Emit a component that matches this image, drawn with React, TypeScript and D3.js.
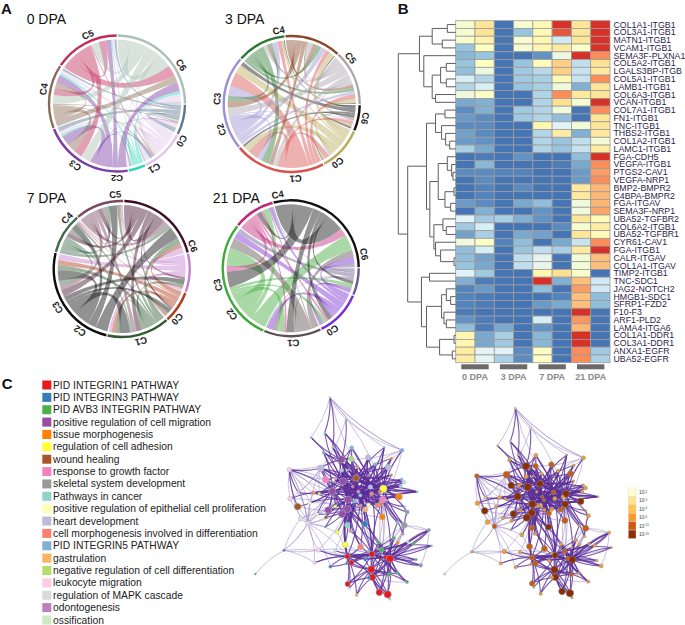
import React, { useEffect, useRef } from 'react';
import * as d3 from 'd3';

// ---- A: chord diagrams (rows = sending cluster, cols = receiving cluster, clockwise order)
const chord0Dpa = [
  [4, 1, 0, 4, 2, 2, 1],
  [4, 4, 1, 3, 3, 2, 7],
  [0, 1, 1, 2, 2, 1, 3],
  [1, 2, 1, 9, 7, 5, 8],
  [1, 1, 0, 7, 5, 0, 6],
  [0, 1, 0, 8, 6, 6, 10],
  [1, 2, 1, 9, 8, 7, 12],
];
const chord3Dpa = [
  [2, 1, 2, 4, 1, 1, 1],
  [2, 2, 6, 8, 2, 5, 4],
  [3, 4, 9, 13, 4, 4, 4],
  [1, 1, 5, 9, 5, 5, 3],
  [0, 0, 7, 5, 3, 4, 3],
  [1, 0, 4, 6, 2, 4, 3],
  [1, 1, 4, 7, 3, 5, 4],
];
const chord7Dpa = [
  [2, 1, 3, 6, 2, 2, 6],
  [1, 2, 4, 5, 1, 1, 4],
  [3, 2, 4, 5, 2, 3, 6],
  [5, 4, 10, 10, 6, 8, 12],
  [0, 0, 2, 4, 3, 4, 4],
  [0, 0, 4, 5, 2, 3, 5],
  [2, 2, 5, 7, 4, 4, 9],
];
const chord21Dpa = [
  [1, 1, 1, 4, 1, 3],
  [3, 2, 5, 6, 3, 6],
  [1, 1, 4, 9, 1, 6],
  [3, 3, 6, 16, 5, 14],
  [0, 2, 2, 5, 2, 7],
  [3, 4, 7, 14, 4, 16],
];
const chordColors0 = ['#5f7590', '#e0c5ea', '#2ed6bc', '#7a3ea3', '#8c6b55', '#c02c5a', '#a9c0b6'];
const chordColors3 = ['#111111', '#b8ab5c', '#d8534f', '#9c90d2', '#2e7a35', '#8a4a2a', '#a8a4ac'];
const chordColors7 = ['#c77fd0', '#b03a1a', '#2f5a30', '#0c0c0c', '#3f6b4a', '#7a4a5e', '#3d1028'];
const chordColors21 = ['#6b5a8f', '#7a2fd0', '#5f4f50', '#3faa3a', '#c0277a', '#111111'];

const chordLabels0: [string, number][] = [['C0', 120], ['C1', 150], ['C2', 180], ['C3', 214], ['C4', 281], ['C5', 337], ['C6', 59]];
const chordLabels3: [string, number][] = [['C6', 101], ['C0', 142], ['C1', 177], ['C2', 250], ['C3', 274], ['C4', 350], ['C5', 52]];
const chordLabels7: [string, number][] = [['C0', 132], ['C1', 165], ['C2', 214], ['C3', 239], ['C4', 313], ['C5', 355], ['C6', 72]];
const chordLabels21: [string, number][] = [['C0', 146], ['C1', 178], ['C2', 232], ['C3', 257], ['C4', 350], ['C6', 79]];

const chordPanels = [
  { title: '0 DPA', matrix: chord0Dpa, colors: chordColors0, labels: chordLabels0, start: 91, cx: 117, cy: 103.5, tx: 26.7, ty: 23.5 },
  { title: '3 DPA', matrix: chord3Dpa, colors: chordColors3, labels: chordLabels3, start: 91, cx: 291.7, cy: 104, tx: 225, ty: 23.5 },
  { title: '7 DPA', matrix: chord7Dpa, colors: chordColors7, labels: chordLabels7, start: 77, cx: 121.7, cy: 269, tx: 26.7, ty: 203 },
  { title: '21 DPA', matrix: chord21Dpa, colors: chordColors21, labels: chordLabels21, start: 90, cx: 290.7, cy: 268.3, tx: 212.7, ty: 203 },
];

// ---- B: heatmap
const heatRows = [
  'COL1A1-ITGB1', 'COL3A1-ITGB1', 'MATN1-ITGB1', 'VCAM1-ITGB1', 'SEMA3F-PLXNA1', 'COL5A2-ITGB1', 'LGALS3BP-ITGB',
  'COL5A1-ITGB1', 'LAMB1-ITGB1', 'COL6A3-ITGB1', 'VCAN-ITGB1', 'COL7A1-ITGB1', 'FN1-ITGB1', 'TNC-ITGB1', 'THBS2-ITGB1',
  'COL1A2-ITGB1', 'LAMC1-ITGB1', 'FGA-CDH5', 'VEGFA-ITGB1', 'PTGS2-CAV1', 'VEGFA-NRP1', 'BMP2-BMPR2', 'C4BPA-BMPR2',
  'FGA-ITGAV', 'SEMA3F-NRP1', 'UBA52-TGFBR2', 'COL6A2-ITGB1', 'UBA52-TGFBR1', 'CYR61-CAV1', 'FGA-ITGB1', 'CALR-ITGAV',
  'COL1A1-ITGAV', 'TIMP2-ITGB1', 'TNC-SDC1', 'JAG2-NOTCH2', 'HMGB1-SDC1', 'SFRP1-FZD2', 'F10-F3', 'ARF1-PLD2',
  'LAMA4-ITGA6', 'COL1A1-DDR1', 'COL3A1-DDR1', 'ANXA1-EGFR', 'UBA52-EGFR',
];
const heatValues = [
  [2.7, 3.8, 0, 2.7, 3.2, 6, 3.8, 6],
  [2.7, 3.9, 0, 1.1, 3.2, 5.6, 3.8, 6],
  [2.8, 3.4, 0, 2.7, 3.3, 1.8, 3.8, 6],
  [1.1, 3, 0, 2.7, 3.3, 3.7, 2.8, 6],
  [0.9, 1.1, 0, 0, 0.4, 2.4, 6, 5],
  [1.1, 3, 0, 1.1, 3.1, 4.2, 1.6, 3.9],
  [1, 2.4, 0, 1.2, 1.5, 4.2, 1.7, 3.7],
  [1.9, 1.4, 0, 1.2, 1.3, 3.2, 1.7, 5],
  [1.4, 1.9, 0, 1.1, 1.3, 2.5, 0.8, 3.8],
  [2.5, 2.9, 0, 0, 1.4, 5, 3.7, 3.8],
  [0.7, 0.8, 0, 0, 1.4, 4, 2.7, 6],
  [0.3, 0.8, 0, 1.2, 1.4, 2.5, 0, 5],
  [0.5, 0.3, 0, 1.2, 1.4, 1, 0, 3.8],
  [0.3, 0.3, 0, 0, 3.3, 2, 2.6, 3.8],
  [0.6, 0.3, 0, 0, 1.4, 3.6, 0.8, 3.7],
  [0.5, 0.4, 0, 0, 1.4, 1.1, 1.6, 2.6],
  [1.3, 0.7, 0, 0, 1.4, 1.1, 1.7, 3.6],
  [0, 0.1, 0, 0.4, 0, 0, 1, 6],
  [0, 0.9, 0, 0, 0, 0.1, 0.7, 5],
  [0.3, 0.3, 0.2, 0.2, 0, 0, 0.5, 4.8],
  [0, 0.3, 0, 0, 0, 0, 0.5, 5],
  [0, 0.2, 0, 0.3, 0, 0, 3.7, 4.5],
  [0, 0.2, 0, 0, 0, 0, 3.7, 4.5],
  [0.5, 0.3, 0, 0.7, 1, 0, 2.5, 4.5],
  [0, 0.8, 0, 0, 0.4, 0, 2.5, 4.7],
  [2, 1.2, 1.3, 0.8, 0.4, 0, 3.8, 3.1],
  [1.2, 1.9, 0, 0, 0, 0.3, 2.7, 3.6],
  [0.6, 1.3, 0, 0.7, 0.6, 0, 3.8, 3.1],
  [2.5, 2.9, 0.2, 1, 0, 0.7, 1.7, 5],
  [1, 1.9, 0, 1.1, 1.6, 1.3, 3.7, 6],
  [1, 0.6, 0, 1.6, 2.2, 0, 2.6, 4.4],
  [1.1, 0.7, 0, 1.6, 2.2, 0, 2.6, 4.4],
  [2, 1.2, 0, 0, 3.3, 4, 2.8, 0],
  [0.8, 0.1, 0, 0, 6, 0.8, 4.4, 1.8],
  [0.2, 0.5, 0, 0, 1, 0, 4.8, 1.8],
  [0.2, 0.1, 0, 0, 0, 0.2, 4.4, 1],
  [0.2, 0.1, 0, 0, 0.5, 0.7, 4.4, 1],
  [0.1, 0, 0, 0, 0, 0, 6, 0],
  [0.4, 0.1, 0, 0, 1.9, 0, 4.9, 0],
  [1, 0.1, 0.7, 0, 0.4, 0, 4.5, 0],
  [3.3, 0.7, 1.3, 0, 0.9, 0, 6, 0],
  [3.3, 0.7, 1.2, 0, 0.9, 0, 6, 0],
  [3.6, 2.1, 2, 0.3, 2.9, 0, 5, 1.2],
  [3.6, 2.1, 1.3, 0.3, 2.9, 0, 5, 1.3],
];
const heatGroups = ['0 DPA', '3 DPA', '7 DPA', '21 DPA'];
const heatPalette = ['#4575b4', '#91bfdb', '#e0f3f8', '#ffffbf', '#fee090', '#fc8d59', '#d73027'];

// merge height first, then the two children; a bare number is a row of the heatmap
type Merge = number | [number, Merge, Merge];
const rowTree: Merge = [171,
  [108,
    [70, [25, 0, 1], [40, 2, 3]],
    [95, 4, [70, [45, [28, 5, 6], [28, 7, 8]], [60, 9, 10]]]],
  [143,
    [87,
      [60, [32, 11, 12], [42, 13, [30, 14, [18, 15, 16]]]],
      [77,
        [52, [25, 17, [12, 18, [8, 19, 20]]], [32, [5, 21, 22], [15, 23, 24]]],
        [65, [38, 25, [28, 26, 27]], [60, 28, [45, 29, [5, 30, 31]]]]]],
    [102,
      [78, 32, 33],
      [87,
        [42, [28, 34, [15, 35, 36]], [35, 37, [28, 38, 39]]],
        [48, [5, 40, 41], [10, 42, 43]]]]]];

// ---- C: enrichment networks
const termNames = [
  'PID INTEGRIN1 PATHWAY', 'PID INTEGRIN3 PATHWAY', 'PID AVB3 INTEGRIN PATHWAY', 'positive regulation of cell migration',
  'tissue morphogenesis', 'regulation of cell adhesion', 'wound healing', 'response to growth factor',
  'skeletal system development', 'Pathways in cancer', 'positive regulation of epithelial cell proliferation',
  'heart development', 'cell morphogenesis involved in differentiation', 'PID INTEGRIN5 PATHWAY', 'gastrulation',
  'negative regulation of cell differentiation', 'leukocyte migration', 'regulation of MAPK cascade', 'odontogenesis', 'ossification',
];
const termColors = [
  '#e41a1c', '#377eb8', '#4daf4a', '#984ea3', '#ff7f00', '#ffff33', '#a65628', '#f781bf', '#999999', '#8dd3c7',
  '#ffffb3', '#bebada', '#fb8072', '#80b1d3', '#fdb462', '#b3de69', '#fccde5', '#d9d9d9', '#bc80bd', '#ccebc5',
];
const pLabels = ['-2', '-3', '-4', '-6', '-10', '-20'];
const pColors = ['#ffffcc', '#fee391', '#fec44f', '#fe9929', '#cc5a0e', '#8c2d04'];

// x, y, size, term, p bin, links. The first 26 nodes can be linked to as a..z (capital = strong edge)
type NetNode = [number, number, number, number, number, string];
const netNodes: NetNode[] = [
  [318, 279, 10, 6, 5, 'BCDEFGHIJRV'],
  [325, 320, 5, 7, 4, 'CDEFGHIJRKNV'],
  [361, 306, 7, 11, 4, 'DEFGHIJKV'],
  [294, 344, 11, 3, 5, 'EFGHIJKOR'],
  [279, 289, 11, 3, 5, 'FGHIJRV'],
  [247, 319, 11, 3, 5, 'GHIJRUvt'],
  [400, 311, 11, 5, 5, 'HIJRYS'],
  [398, 344, 10, 7, 5, 'IJRKLSn'],
  [331, 331, 5, 9, 4, 'RJKVO'],
  [274, 223, 11, 3, 5, 'VRyu'],
  [366, 507, 9, 0, 5, 'LMNOPQs'],
  [420, 521, 11, 0, 5, 'MNPQOZ'],
  [405, 517, 6, 0, 4, 'NOPQZ'],
  [395, 494, 7, 2, 4, 'OPQh'],
  [292, 514, 8, 0, 4, 'PQt'],
  [364, 553, 11, 0, 5, 'Q'],
  [367, 577, 10, 0, 5, 'lm'],
  [292, 372, 11, 3, 5, 'KOLNV'],
  [463, 421, 9, 8, 4, 'lzgkm'],
  [174, 415, 7, 16, 4, 'rwfvud'],
  [118, 254, 7, 16, 4, 'Vfdet'],
  [212, 250, 10, 11, 4, 'F'],
  [102, 496, 4, 1, 3, 'to'],
  [240, 38, 3, 9, 1, 'ygc'],
  [456, 196, 6, 13, 3, 'xgcah'],
  [537, 435, 5, 8, 3, 'Ls'],
  [288, 103, 3, 9, 1, 'Jxyv'],
  [224, 144, 3, 9, 1, 'XJEA'],
  [183, 157, 3, 9, 1, 'JxE'],
  [248, 187, 3, 15, 2, 'XJAE'],
  [221, 203, 5, 13, 3, 'JAEF'],
  [305, 188, 6, 13, 3, 'AJGCE'],
  [304, 222, 8, 15, 4, 'AJCB'],
  [283, 233, 3, 5, 3, 'AEBD'],
  [354, 217, 8, 11, 4, 'ACBGD'],
  [403, 187, 3, 13, 3, 'GCxAB'],
  [425, 220, 4, 4, 3, 'GCyAB'],
  [415, 247, 9, 11, 4, 'GCABI'],
  [375, 238, 5, 13, 3, 'CGABI'],
  [323, 246, 5, 12, 3, 'AJBCD'],
  [295, 255, 3, 13, 3, 'AEBD'],
  [275, 256, 6, 11, 3, 'EABD'],
  [424, 270, 4, 4, 3, 'GCAB'],
  [455, 283, 4, 13, 3, 'GHCB'],
  [462, 292, 6, 17, 3, 'GCBA'],
  [452, 303, 5, 9, 3, 'GCBI'],
  [502, 320, 3, 9, 3, 'GCBIAH'],
  [447, 335, 10, 4, 5, 'GHBCI'],
  [390, 320, 5, 4, 3, 'CGBIA'],
  [365, 326, 6, 12, 3, 'CHBIE'],
  [390, 358, 6, 4, 4, 'HCBI'],
  [382, 362, 7, 12, 4, 'HBCI'],
  [356, 360, 6, 10, 3, 'BHICR'],
  [346, 373, 8, 14, 4, 'RBIDC'],
  [332, 362, 5, 12, 3, 'BIDCE'],
  [320, 347, 6, 11, 3, 'DIBCE'],
  [312, 350, 5, 13, 3, 'DRBIA'],
  [308, 305, 4, 12, 3, 'ABCDE'],
  [258, 280, 4, 7, 3, 'EABDF'],
  [227, 284, 10, 7, 5, 'EFABvu'],
  [250, 285, 5, 10, 3, 'EFBA'],
  [208, 326, 4, 5, 3, 'FvuBE'],
  [190, 323, 6, 12, 3, 'FuBDt'],
  [145, 323, 4, 16, 2, 'UFtv'],
  [120, 341, 7, 16, 3, 'uFtrv'],
  [143, 365, 10, 6, 5, 'FUtr'],
  [179, 353, 5, 10, 3, 'FtuDr'],
  [201, 388, 5, 10, 3, 'RtFd'],
  [234, 375, 10, 3, 5, 'FRDBe'],
  [256, 364, 5, 5, 3, 'FDBE'],
  [228, 397, 5, 6, 3, 'RtDF'],
  [276, 387, 11, 3, 5, 'RDBFA'],
  [152, 401, 7, 16, 3, 'tufrw'],
  [205, 495, 7, 16, 3, 'toOwrk'],
  [194, 533, 5, 16, 3, 'towkO'],
  [226, 426, 3, 1, 2, 'RtD'],
  [16, 567, 3, 1, 1, 'w'],
  [301, 438, 5, 7, 3, 'RKDB'],
  [292, 420, 8, 9, 4, 'RDBI'],
  [261, 442, 6, 5, 3, 'Rtod'],
  [345, 417, 9, 1, 5, 'RBDIk'],
  [285, 479, 9, 5, 4, 'ROkDR'],
  [332, 486, 9, 12, 4, 'RKDBO'],
  [255, 497, 5, 17, 3, 'oKr'],
  [397, 396, 9, 4, 4, 'HrbnI'],
  [442, 413, 4, 13, 3, 'HsgLb'],
  [464, 365, 3, 9, 3, 'Hsg'],
  [472, 381, 6, 8, 3, 'ShHG'],
  [459, 447, 4, 8, 3, 'SlHk'],
  [385, 472, 5, 2, 3, 'KLMh'],
  [432, 459, 5, 2, 3, 'LMKs'],
  [418, 483, 4, 2, 3, 'LKMN'],
  [443, 473, 5, 4, 3, 'LsMk'],
  [491, 476, 5, 2, 3, 'LZMk'],
  [473, 470, 4, 19, 3, 'LZMN'],
  [545, 482, 3, 9, 3, 'LMNk'],
  [512, 541, 6, 8, 3, 'LMNz'],
  [498, 524, 4, 2, 3, 'LMK'],
  [471, 591, 5, 2, 3, 'LPMq'],
  [440, 565, 4, 2, 3, 'LPKM'],
  [417, 569, 6, 2, 4, 'LPQKM'],
  [388, 622, 10, 0, 5, 'QLPM'],
  [413, 628, 11, 0, 5, 'QLPM'],
  [420, 643, 3, 17, 3, 'QP'],
  [320, 630, 5, 14, 3, 'POQ'],
  [293, 597, 8, 0, 4, 'OPKQ'],
  [298, 610, 3, 17, 3, 'OP'],
  [304, 533, 8, 0, 4, 'OKPN'],
  [290, 535, 4, 1, 3, 'OKP'],
  [241, 545, 5, 1, 3, 'OtK'],
  [346, 524, 5, 1, 3, 'KOLP'],
  [356, 578, 5, 1, 3, 'PKQL'],
  [355, 500, 4, 13, 3, 'KLO'],
];

const FONT = '"Liberation Sans", Arial, sans-serif';
const DEG = Math.PI / 180;

// clockwise around the circle; each sector holds its outgoing block, then the incoming links
function chordLayout(matrix: number[][], startDeg: number, gapDeg: number) {
  const n = matrix.length;
  const total = 2 * d3.sum(matrix, row => d3.sum(row));
  const toAngle = d3.scaleLinear().domain([0, total]).range([0, (360 - n * gapDeg) * DEG]);
  const links: any[] = [];
  const sectors: any[] = [];
  matrix.forEach(() => links.push(matrix.map(() => ({}))));
  let a = startDeg * DEG;
  for (let i = 0; i < n; i++) {
    const start = a;
    for (let j = n - 1; j >= 0; j--) {
      const w = toAngle(matrix[i][j]);
      links[i][j].source = { startAngle: a, endAngle: a + w };
      a += w;
    }
    for (let j = n - 1; j >= 0; j--) {
      const w = toAngle(matrix[j][i]);
      links[j][i].target = { startAngle: a, endAngle: a + w };
      a += w;
    }
    sectors.push({ startAngle: start, endAngle: a });
    a += gapDeg * DEG;
  }
  const list = links.flatMap((row, i) => row.map((l: any, j: number) => ({ ...l, from: i, value: matrix[i][j] })));
  return { sectors, links: list.filter(l => l.value > 0) };
}

const App: React.FC = () => {
  const svgRef = useRef<SVGSVGElement>(null);

  useEffect(() => {
    if (!svgRef.current) return;
    const svg = d3.select(svgRef.current);
    svg.selectAll('*').remove();

    // Panel letters
    [['A', 1, 14], ['B', 397.7, 13.5], ['C', 1.7, 389]].forEach(([t, x, y]) => {
      svg.append('text').attr('x', x).attr('y', y)
        .style('font', `bold 15px ${FONT}`).attr('fill', '#111').text(t as string);
    });

    // --- A
    const ring = d3.arc<any>().innerRadius(66.8).outerRadius(69.2);
    const ribbon = d3.ribbon<any, any>().radius(64);
    chordPanels.forEach(p => {
      svg.append('text').attr('x', p.tx).attr('y', p.ty)
        .style('font', `14px ${FONT}`).attr('fill', '#111').text(p.title);
      const g = svg.append('g').attr('transform', `translate(${p.cx},${p.cy})`);
      const { sectors, links } = chordLayout(p.matrix, p.start, 1);
      g.selectAll('path.link').data(links).enter().append('path')
        .attr('class', 'link')
        .attr('d', d => ribbon(d) as unknown as string)
        .attr('fill', d => p.colors[d.from])
        .attr('fill-opacity', 0.45);
      g.selectAll('path.ring').data(sectors).enter().append('path')
        .attr('class', 'ring')
        .attr('d', d => ring(d))
        .attr('fill', (_, i) => p.colors[i]);
      p.labels.forEach(([label, angle]) => {
        g.append('text')
          .attr('transform', `rotate(${angle}) translate(0,-75)`)
          .attr('text-anchor', 'middle')
          .attr('dominant-baseline', 'central')
          .style('font', `bold 9.5px ${FONT}`)
          .attr('fill', '#222')
          .text(label);
      });
    });

    // --- B heatmap
    const heatLeft = 455.7;
    const heatRight = 610;
    const xCell = d3.scaleBand<number>().domain(d3.range(8)).range([heatLeft, heatRight]);
    const yCell = d3.scaleBand<number>().domain(d3.range(heatRows.length)).range([20.7, 362.7]);
    const heatColor = d3.scaleLinear<string>().domain(d3.range(7)).range(heatPalette);
    const heat = svg.append('g');
    heatValues.forEach((row, r) => {
      heat.selectAll(null).data(row).enter().append('rect')
        .attr('x', (_, c) => xCell(c) as number)
        .attr('y', yCell(r) as number)
        .attr('width', xCell.bandwidth())
        .attr('height', yCell.bandwidth())
        .attr('fill', d => heatColor(d))
        .attr('stroke', '#9c9c9c')
        .attr('stroke-width', 0.8);
    });
    heat.selectAll('text.row').data(heatRows).enter().append('text')
      .attr('class', 'row')
      .attr('x', 613.5)
      .attr('y', (_, i) => (yCell(i) as number) + yCell.bandwidth() / 2)
      .attr('dominant-baseline', 'central')
      .style('font', `8.8px ${FONT}`)
      .attr('fill', '#2c2448')
      .text(d => d);

    const xGroup = d3.scaleBand<string>().domain(heatGroups).range([heatLeft, heatRight]).paddingInner(0.29).paddingOuter(0.145);
    heatGroups.forEach(name => {
      heat.append('rect')
        .attr('x', xGroup(name) as number).attr('y', 364.3)
        .attr('width', xGroup.bandwidth()).attr('height', 5)
        .attr('fill', '#6e6868');
      heat.append('text')
        .attr('x', (xGroup(name) as number) + xGroup.bandwidth() / 2).attr('y', 379.5)
        .attr('text-anchor', 'middle')
        .style('font', `bold 9px ${FONT}`)
        .attr('fill', '#8a8a8a')
        .text(name);
    });

    // row dendrogram
    const treeRoot = d3.hierarchy<Merge>(rowTree, d => (Array.isArray(d) ? [d[1], d[2]] : null));
    const xMerge = d3.scaleLinear().domain([0, 171]).range([heatLeft, 398.3]);
    const height = (d: any) => (Array.isArray(d.data) ? d.data[0] : 0);
    const rowY = (d: any): number => d.children
      ? d3.mean(d.children, rowY) as number
      : (yCell(d.data) as number) + yCell.bandwidth() / 2;
    const dendro = d3.path();
    treeRoot.descendants().filter(d => d.children).forEach(d => {
      const x = xMerge(height(d));
      d.children!.forEach(c => {
        dendro.moveTo(x, rowY(d));
        dendro.lineTo(x, rowY(c));
        dendro.lineTo(xMerge(height(c)), rowY(c));
      });
    });
    svg.append('path').attr('d', dendro.toString())
      .attr('fill', 'none').attr('stroke', '#5e5e5e').attr('stroke-width', 1);

    // --- C legend
    const yTerm = d3.scalePoint<string>().domain(termNames).range([385, 620]);
    const legend = svg.append('g');
    legend.selectAll('rect').data(termNames).enter().append('rect')
      .attr('x', 42.3)
      .attr('y', d => (yTerm(d) as number) - 4.5)
      .attr('width', 9).attr('height', 9)
      .attr('fill', (_, i) => termColors[i]);
    legend.selectAll('text').data(termNames).enter().append('text')
      .attr('x', 53)
      .attr('y', d => yTerm(d) as number)
      .attr('dominant-baseline', 'central')
      .style('font', `10.3px ${FONT}`)
      .attr('fill', '#222')
      .text(d => d);

    // --- C networks
    const hubOf = (ch: string) => netNodes[ch.toLowerCase().charCodeAt(0) - 97];
    const edges = netNodes.flatMap(n => [...n[5]].map(ch => ({ a: n, b: hubOf(ch), strong: ch === ch.toUpperCase() })));
    const size = d3.scaleLinear().domain([0, 11]).range([0, 3.7]);

    const drawNetwork = (xs: d3.ScaleLinear<number, number>, ys: d3.ScaleLinear<number, number>, fill: (n: NetNode) => string, ringColor: string) => {
      const g = svg.append('g');
      const curved = (e: any, i: number) => {
        const [x0, y0, x1, y1] = [xs(e.a[0]), ys(e.a[1]), xs(e.b[0]), ys(e.b[1])];
        const bend = i % 2 ? 0.1 : -0.1;
        const path = d3.path();
        path.moveTo(x0, y0);
        path.quadraticCurveTo((x0 + x1) / 2 - (y1 - y0) * bend, (y0 + y1) / 2 + (x1 - x0) * bend, x1, y1);
        return path.toString();
      };
      g.selectAll('path.weak').data(edges.filter(e => !e.strong)).enter().append('path')
        .attr('class', 'weak').attr('d', curved)
        .attr('fill', 'none').attr('stroke', '#a28fc8').attr('stroke-width', 0.8).attr('stroke-opacity', 0.7);
      g.selectAll('path.strong').data(edges.filter(e => e.strong)).enter().append('path')
        .attr('class', 'strong').attr('d', curved)
        .attr('fill', 'none').attr('stroke', '#5a2d98').attr('stroke-width', 1.1).attr('stroke-opacity', 0.8);
      g.selectAll('circle').data(netNodes).enter().append('circle')
        .attr('cx', d => xs(d[0]))
        .attr('cy', d => ys(d[1]))
        .attr('r', d => size(d[2]))
        .attr('fill', d => fill(d))
        .attr('stroke', ringColor)
        .attr('stroke-width', 0.5);
    };

    drawNetwork(
      d3.scaleLinear().domain([0, 660]).range([250, 470]),
      d3.scaleLinear().domain([0, 690]).range([385, 615]),
      n => termColors[n[3]],
      '#9cc0d2',
    );
    drawNetwork(
      d3.scaleLinear().domain([0, 660]).range([439.6, 647.9]),
      d3.scaleLinear().domain([0, 690]).range([396.4, 612.6]),
      n => pColors[n[4]],
      '#7d9aa0',
    );

    // p-value key
    const yKey = d3.scaleBand<string>().domain(pLabels).range([488, 538.5]);
    pLabels.forEach((label, i) => {
      svg.append('rect')
        .attr('x', 628.3).attr('y', yKey(label) as number)
        .attr('width', 7.7).attr('height', yKey.bandwidth())
        .attr('fill', pColors[i]).attr('stroke', '#d8d8d8').attr('stroke-width', 0.4);
      const t = svg.append('text')
        .attr('x', 639).attr('y', (yKey(label) as number) + yKey.bandwidth() / 2 + 1.8)
        .style('font', `5px ${FONT}`).attr('fill', '#444').text('10');
      t.append('tspan').attr('dy', -1.5).style('font-size', '3px').text(label);
    });
  }, []);

  return <svg ref={svgRef} width={685} height={625} style={{ position: 'absolute', left: 0, top: 0, background: '#fff' }} />;
};

export default App;
